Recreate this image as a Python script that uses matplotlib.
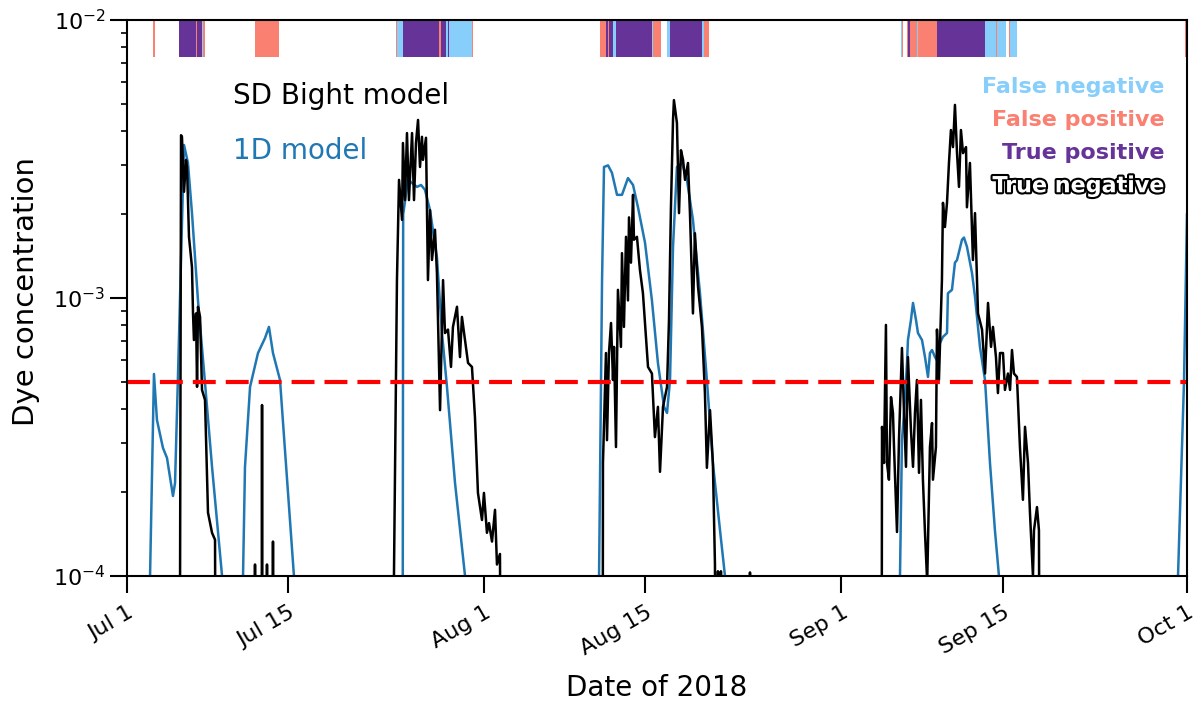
import datetime as dt
import numpy as np
import matplotlib
matplotlib.use("Agg")
import matplotlib.pyplot as plt
import matplotlib.dates as mdates
import matplotlib.patheffects as pe
from matplotlib.ticker import NullFormatter

plt.rcParams['xtick.labelsize'] = 16
plt.rcParams['ytick.labelsize'] = 16

start = dt.datetime(2018, 7, 1)
threshold = 5e-4
floor = 1e-6  # below the axis: nothing visible

# (days since Jul 1, dye concentration)
sd_bight = [
    (0, floor), (4.50, floor), (4.69, 3.85e-3), (4.77, 3.8e-3), (4.95, 2.41e-3), (5.12, 3.14e-3),
    (5.21, 2.96e-3), (5.38, 1.66e-3), (5.64, 1.29e-3), (5.73, 8.8e-4), (5.81, 7.06e-4), (5.99, 8.8e-4),
    (6.08, 4.79e-4), (6.16, 9.3e-4), (6.34, 8.55e-4), (6.51, 4.67e-4), (6.77, 4.3e-4), (7.03, 1.69e-4),
    (7.38, 1.43e-4), (7.64, 1.35e-4), (7.81, floor),
    (11.05, floor), (11.11, 1.1e-4), (11.17, floor), (11.65, floor), (11.72, 4.12e-4), (11.79, floor),
    (12.10, floor), (12.15, 1.1e-4), (12.20, floor), (12.62, floor), (12.67, 1.33e-4), (12.72, floor),
    (23.10, floor), (23.17, 1.0e-4), (23.43, 1.16e-3), (23.61, 2.66e-3), (23.87, 1.91e-3), (23.95, 3.61e-3),
    (24.13, 2.25e-3), (24.30, 3.92e-3), (24.47, 2.25e-3), (24.74, 3.92e-3), (24.91, 2.25e-3), (25.08, 3.61e-3),
    (25.26, 4.37e-3), (25.43, 2.96e-3), (25.60, 3.8e-3), (25.69, 3.14e-3), (25.95, 3.77e-3), (26.12, 1.16e-3),
    (26.30, 2.07e-3), (26.47, 1.37e-3), (26.73, 1.76e-3), (26.90, 1.23e-3), (27.17, 3.95e-4), (27.43, 1.16e-3),
    (27.60, 7.48e-4), (27.86, 7.7e-4), (28.12, 5.65e-4), (28.29, 7.87e-4), (28.64, 9.3e-4), (28.90, 6.13e-4),
    (29.07, 8.55e-4), (29.34, 7.06e-4), (29.60, 5.84e-4), (29.94, 5.65e-4), (30.20, 3.73e-4), (30.46, 1.99e-4),
    (30.81, 1.59e-4), (30.98, 1.99e-4), (31.24, 1.43e-4), (31.42, 1.55e-4), (31.68, 1.33e-4), (31.94, 1.73e-4),
    (32.11, 1.1e-4), (32.37, 1.2e-4), (32.63, floor),
    (41.25, floor), (41.31, 2.55e-4), (41.57, 6.34e-4), (41.66, 3.08e-4), (41.83, 6.34e-4), (42.01, 8.13e-4),
    (42.18, 5.07e-4), (42.27, 6.67e-4), (42.44, 2.91e-4), (42.61, 1.07e-3), (42.87, 6.67e-4), (42.96, 1.45e-3),
    (43.13, 7.87e-4), (43.31, 1.66e-3), (43.48, 9.8e-4), (43.57, 1.95e-3), (43.74, 1.34e-3), (43.92, 2.35e-3),
    (44.00, 1.62e-3), (44.26, 1.66e-3), (44.52, 1.26e-3), (44.78, 1.04e-3), (45.22, 5.65e-4), (45.56, 5.35e-4),
    (45.82, 3.16e-4), (46.08, 4.06e-4), (46.26, 2.37e-4), (46.52, 4.06e-4), (46.87, 4.79e-4), (47.04, 8.33e-4),
    (47.21, 2.12e-3), (47.39, 4.37e-3), (47.47, 5.15e-3), (47.73, 4.26e-3), (47.91, 2.02e-3), (48.08, 3.4e-3),
    (48.26, 3.14e-3), (48.43, 2.66e-3), (48.69, 3.06e-3), (48.86, 2.02e-3), (49.12, 8.8e-4), (49.29, 1.71e-3),
    (49.56, 1.10e-3), (49.90, 7.87e-4), (50.16, 4.55e-4), (50.33, 2.45e-4), (50.60, 3.95e-4), (50.85, 2.55e-4),
    (51.03, 1.1e-4), (51.21, floor), (51.29, 1.04e-4), (51.40, floor), (51.55, 1.04e-4), (51.65, floor),
    (54.00, floor), (54.07, 1.03e-4), (54.14, floor),
    (65.45, floor), (65.53, 3.44e-4), (65.70, 2.55e-4), (65.87, 8.0e-4), (65.96, 2.55e-4), (66.13, 2.22e-4),
    (66.31, 4.4e-4), (66.48, 3.86e-4), (66.57, 2.91e-4), (66.83, 1.44e-4), (67.00, 3.08e-4), (67.26, 6.61e-4),
    (67.44, 3.86e-4), (67.61, 2.47e-4), (67.78, 6.13e-4), (68.04, 3.35e-4), (68.22, 2.47e-4), (68.39, 3.86e-4),
    (68.56, 5.07e-4), (68.74, 2.35e-4), (68.91, 4.3e-4), (69.08, 2.22e-4), (69.26, 1.43e-4), (69.45, 9.5e-5),
    (69.69, 2.91e-4), (69.87, 3.55e-4), (69.95, 2.22e-4), (70.21, 2.91e-4), (70.30, 7.7e-4), (70.47, 5.07e-4),
    (70.73, 1.16e-3), (70.82, 2.2e-3), (70.99, 1.80e-3), (71.17, 2.2e-3), (71.34, 3.06e-3), (71.51, 4.02e-3),
    (71.69, 3.49e-3), (71.86, 4.95e-3), (72.04, 3.32e-3), (72.21, 2.51e-3), (72.38, 4.02e-3), (72.56, 3.32e-3),
    (72.82, 3.49e-3), (72.90, 2.12e-3), (73.16, 3.06e-3), (73.42, 1.37e-3), (73.60, 2.02e-3), (73.86, 8.8e-4),
    (74.21, 7.7e-4), (74.47, 5.35e-4), (74.73, 9.6e-4), (74.99, 6.67e-4), (75.16, 7.87e-4), (75.42, 6.13e-4),
    (75.59, 4.55e-4), (75.77, 6.34e-4), (76.03, 6.34e-4), (76.20, 4.67e-4), (76.46, 5.35e-4), (76.64, 4.67e-4),
    (76.81, 6.5e-4), (76.98, 5.35e-4), (77.24, 5.2e-4), (77.50, 2.91e-4), (77.76, 1.88e-4), (77.94, 3.44e-4),
    (78.20, 2.55e-4), (78.37, 1.69e-4), (78.63, 1.0e-4), (78.72, 1.46e-4), (78.98, 1.77e-4), (79.15, 1.46e-4),
    (79.33, floor), (92, floor),
]

model_1d = [
    (0, floor), (1.95, floor), (2.00, 1.0e-4), (2.34, 5.33e-4), (2.60, 3.64e-4), (3.12, 2.89e-4),
    (3.47, 2.66e-4), (3.99, 1.94e-4), (4.17, 2.16e-4), (4.43, 5.35e-4), (4.95, 3.55e-3), (5.29, 3.06e-3),
    (5.64, 2.02e-3), (6.16, 9.8e-4), (6.77, 4.95e-4), (7.38, 2.47e-4), (8.25, 1.0e-4), (8.30, floor),
    (10.00, floor), (10.07, 1.0e-4), (10.24, 2.47e-4), (10.68, 4.79e-4), (11.37, 6.34e-4), (11.98, 7.18e-4),
    (12.32, 7.87e-4), (12.67, 6.34e-4), (13.28, 5.07e-4), (13.71, 2.84e-4), (14.49, 1.0e-4), (14.55, floor),
    (23.88, floor), (23.97, 2.0e-3), (24.39, 2.66e-3), (25.17, 2.51e-3), (25.52, 2.55e-3), (25.86, 2.45e-3),
    (26.30, 2.07e-3), (26.90, 1.40e-3), (27.34, 7.48e-4), (27.77, 4.79e-4), (28.47, 2.16e-4), (29.34, 1.0e-4),
    (29.40, floor),
    (40.90, floor), (40.97, 1.0e-4), (41.23, 1.16e-3), (41.40, 2.96e-3), (41.75, 3.0e-3), (42.09, 2.82e-3),
    (42.53, 2.35e-3), (42.96, 2.35e-3), (43.48, 2.70e-3), (43.92, 2.55e-3), (44.35, 2.12e-3), (44.96, 1.58e-3),
    (45.56, 9.8e-4), (46.08, 5.84e-4), (46.61, 4.06e-4), (46.87, 3.86e-4), (47.13, 5.07e-4), (47.39, 1.53e-3),
    (47.73, 2.96e-3), (48.17, 3.06e-3), (48.60, 2.66e-3), (49.12, 1.91e-3), (49.73, 1.04e-3), (50.33, 5.07e-4),
    (50.85, 2.55e-4), (51.47, 1.46e-4), (51.90, 1.0e-4), (51.95, floor),
    (67.05, floor), (67.09, 1.0e-4), (67.26, 3.08e-4), (67.44, 3.86e-4), (67.70, 5.84e-4), (67.78, 7.06e-4),
    (68.04, 8.33e-4), (68.22, 9.6e-4), (68.48, 8.33e-4), (68.65, 7.48e-4), (69.00, 7.06e-4), (69.26, 6.13e-4),
    (69.52, 5.2e-4), (69.69, 6.34e-4), (69.87, 6.5e-4), (70.13, 6.13e-4), (70.30, 5.96e-4), (70.56, 6.89e-4),
    (70.82, 7.25e-4), (71.17, 7.48e-4), (71.25, 1.04e-3), (71.60, 1.07e-3), (71.86, 1.34e-3), (72.04, 1.37e-3),
    (72.47, 1.62e-3), (72.64, 1.65e-3), (72.90, 1.53e-3), (73.34, 1.23e-3), (73.60, 1.01e-3), (74.03, 6.67e-4),
    (74.47, 5.07e-4), (74.90, 2.55e-4), (75.33, 1.46e-4), (75.68, 1.0e-4), (75.75, floor),
    (91.15, floor), (91.22, 1.0e-4), (91.74, 5e-4), (92.0, 2e-3),
]

# classification of the 1D model against SD Bight (start, end in days since Jul 1)
false_negative = [
    (6.51, 6.60), (23.43, 23.95), (27.69, 27.86), (27.95, 29.94), (42.18, 42.44), (45.56, 45.65),
    (46.87, 47.13), (49.90, 50.08), (67.18, 67.26), (68.56, 68.65), (74.47, 75.42), (75.51, 76.29),
    (76.64, 77.24),
]
false_positive = [
    (2.26, 2.43), (5.99, 6.08), (6.60, 6.77), (11.11, 13.19), (23.35, 23.43), (27.08, 27.25),
    (29.94, 30.03), (41.05, 41.57), (41.75, 41.83), (45.65, 46.35), (50.08, 50.51), (67.26, 67.35),
    (67.70, 67.78), (67.96, 68.56), (68.65, 70.30), (75.42, 75.51), (76.55, 76.64), (91.83, 92.0),
]
true_positive = [
    (4.51, 5.99), (6.08, 6.51), (23.95, 27.08), (27.25, 27.69), (27.86, 27.95), (41.57, 41.75),
    (41.83, 42.18), (42.44, 45.56), (47.13, 49.90), (67.78, 67.96), (70.30, 74.47),
]

tick_dates = [dt.datetime(2018, 7, 1), dt.datetime(2018, 7, 15), dt.datetime(2018, 8, 1),
              dt.datetime(2018, 8, 15), dt.datetime(2018, 9, 1), dt.datetime(2018, 9, 15),
              dt.datetime(2018, 10, 1)]
tick_labels = ["Jul 1", "Jul 15", "Aug 1", "Aug 15", "Sep 1", "Sep 15", "Oct 1"]

t0 = mdates.date2num(start)
sd = np.array(sd_bight)
m1 = np.array(model_1d)

fig = plt.figure(figsize=(11.96, 7.02), dpi=100)
ax = fig.add_axes([127 / 1196, 1 - 576 / 702, 1060 / 1196, 556 / 702])

ax.plot(t0 + m1[:, 0], m1[:, 1], color='#1f77b4', lw=1.8)
ax.plot(t0 + sd[:, 0], sd[:, 1], color='black', lw=1.8)
ax.axhline(threshold, color='red', lw=3, ls=(0, (5.5, 2.4)))

for spans, col in [(false_negative, 'lightskyblue'), (false_positive, 'salmon'),
                   (true_positive, 'rebeccapurple')]:
    for a, b in spans:
        ax.axvspan(t0 + a, t0 + b, ymin=0.933, ymax=1, color=col, lw=0)

ax.set_yscale('log')
ax.set_ylim(1e-4, 1e-2)
ax.set_xlim(t0, mdates.date2num(tick_dates[-1]))
ax.yaxis.set_minor_formatter(NullFormatter())

ax.set_xticks([mdates.date2num(d) for d in tick_dates])
ax.set_xticklabels(tick_labels, rotation=30, ha='right', va='top', rotation_mode='anchor')
ax.tick_params(which='major', length=12, width=1.5)
ax.tick_params(axis='x', which='major', pad=7)
ax.tick_params(which='minor', length=4, width=1.2)
for s in ax.spines.values():
    s.set_linewidth(1.5)

ax.set_xlabel('Date of 2018', fontsize=20, labelpad=11)
ax.set_ylabel('Dye concentration', fontsize=21, labelpad=9, y=0.512)

ax.text(0.10, 0.863, 'SD Bight model', transform=ax.transAxes, fontsize=20, va='center')
ax.text(0.10, 0.764, '1D model', transform=ax.transAxes, fontsize=20, va='center', color='#1f77b4')

ax.text(0.979, 0.8795, 'False negative', transform=ax.transAxes, ha='right', va='center',
        fontsize=16, weight='bold', color='lightskyblue')
ax.text(0.979, 0.820, 'False positive', transform=ax.transAxes, ha='right', va='center',
        fontsize=16, weight='bold', color='salmon')
ax.text(0.979, 0.761, 'True positive', transform=ax.transAxes, ha='right', va='center',
        fontsize=16, weight='bold', color='rebeccapurple')
ax.text(0.979, 0.701, 'True negative', transform=ax.transAxes, ha='right', va='center',
        fontsize=16, weight='bold', color='white',
        path_effects=[pe.withStroke(linewidth=3, foreground='black')])

fig.savefig('out.png', dpi=100)
